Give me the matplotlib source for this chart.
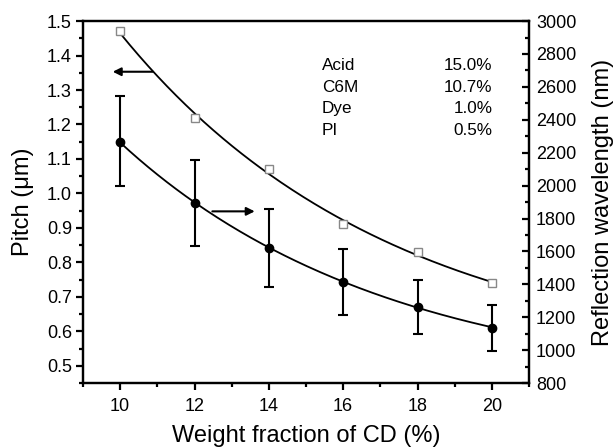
import numpy as np
import matplotlib
matplotlib.use("Agg")
import matplotlib.pyplot as plt
from matplotlib.ticker import MultipleLocator

plt.rcParams['font.family'] = ['Liberation Sans', 'DejaVu Sans']

cd_fraction = [10, 12, 14, 16, 18, 20]
pitch_um = [1.47, 1.22, 1.07, 0.91, 0.83, 0.74]
reflection_nm = [2267, 1892, 1622, 1416, 1264, 1136]
refl_err_up = [277, 261, 235, 197, 162, 138]
refl_err_down = [270, 259, 240, 203, 166, 140]

comp_names = ["Acid", "C6M", "Dye", "PI"]
comp_values = ["15.0%", "10.7%", "1.0%", "0.5%"]

fig = plt.figure(figsize=(6.13, 4.48), dpi=100)
ax = fig.add_axes([0.1354, 0.145, 0.7276, 0.808])
ax2 = ax.twinx()

x = np.array(cd_fraction, dtype=float)
xs = np.linspace(x.min(), x.max(), 200)

# fitted curves
c1 = np.polyfit(x, np.log(pitch_um), 2)
ax.plot(xs, np.exp(np.polyval(c1, xs)), color='black', lw=1.3, zorder=2)
ax.plot(x, pitch_um, ls='none', marker='s', ms=5.5, mfc='white',
        mec='#888888', mew=1.0, zorder=3)

c2 = np.polyfit(x, np.log(reflection_nm), 2)
ax2.plot(xs, np.exp(np.polyval(c2, xs)), color='black', lw=1.3, zorder=2)
ax2.errorbar(x, reflection_nm, yerr=[refl_err_down, refl_err_up], fmt='o',
             color='black', ms=6, elinewidth=1.5, capsize=3.3, capthick=1.5,
             zorder=3)

ax.set_xlim(9, 21)
ax.set_ylim(0.45, 1.5)
ax2.set_ylim(800, 3000)

ax.xaxis.set_major_locator(MultipleLocator(2))
ax.xaxis.set_minor_locator(MultipleLocator(1))
ax.yaxis.set_major_locator(MultipleLocator(0.1))
ax.yaxis.set_minor_locator(MultipleLocator(0.05))
ax2.yaxis.set_major_locator(MultipleLocator(200))
ax2.yaxis.set_minor_locator(MultipleLocator(100))
ax.set_xticks([10, 12, 14, 16, 18, 20])
ax.set_yticks([0.5, 0.6, 0.7, 0.8, 0.9, 1.0, 1.1, 1.2, 1.3, 1.4, 1.5])

for a in (ax, ax2):
    for s in a.spines.values():
        s.set_linewidth(1.6)

ax.tick_params(axis='both', which='major', direction='out', length=5,
               width=1.6, labelsize=13, top=False, right=False, pad=3)
ax.tick_params(axis='x', which='major', pad=6)
ax.tick_params(axis='both', which='minor', direction='out', length=3,
               width=1.6, top=False, right=False)
ax2.tick_params(axis='y', which='major', direction='in', length=5,
                width=1.6, labelsize=13, pad=5)
ax2.tick_params(axis='y', which='minor', direction='in', length=3, width=1.6)

ax.set_xlabel("Weight fraction of CD (%)", fontsize=17, labelpad=7)
ax.set_ylabel("Pitch (\u03bcm)", fontsize=17, labelpad=9)
ax2.set_ylabel("Reflection wavelength (nm)", fontsize=17, labelpad=11)

# arrows
ax.annotate("", xy=(9.8, 1.353), xytext=(10.88, 1.353),
            arrowprops=dict(arrowstyle='-|>', color='black', lw=1.5,
                            mutation_scale=12, shrinkA=0, shrinkB=0))
ax.annotate("", xy=(13.62, 0.948), xytext=(12.48, 0.948),
            arrowprops=dict(arrowstyle='-|>', color='black', lw=1.5,
                            mutation_scale=12, shrinkA=0, shrinkB=0))

# composition table
for i, (n, v) in enumerate(zip(comp_names, comp_values)):
    yy = 0.877 - i * 0.0595
    ax.text(0.536, yy, n, transform=ax.transAxes, fontsize=12.3,
            ha='left', va='center')
    ax.text(0.918, yy, v, transform=ax.transAxes, fontsize=12.3,
            ha='right', va='center')

fig.savefig("out.png", dpi=100)
